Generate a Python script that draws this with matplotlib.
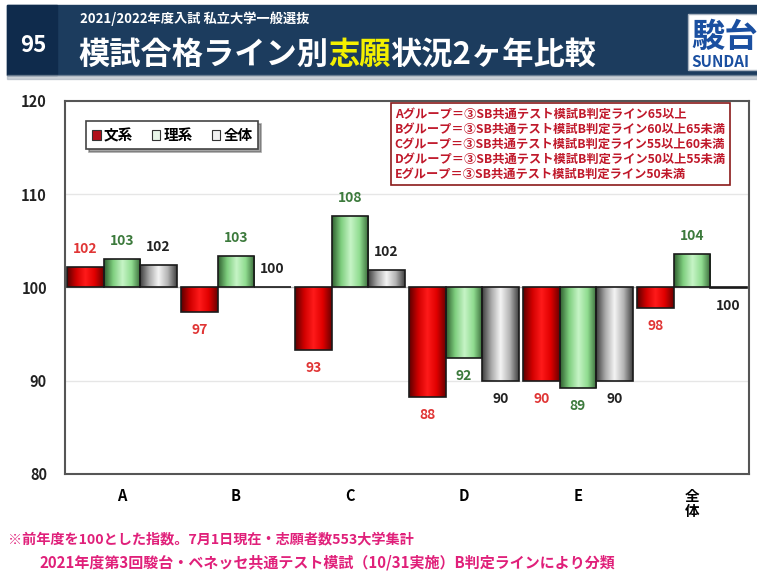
import numpy as np
import matplotlib.pyplot as plt
from matplotlib.colors import LinearSegmentedColormap
from matplotlib.patches import Rectangle, Patch

plt.rcParams['font.family'] = ['Noto Sans CJK JP', 'DejaVu Sans']

# データ（前年度=100とした指数）
groups = ["A", "B", "C", "D", "E", "全\n体"]
bunkei = [102.2, 97.4, 93.3, 88.3, 90.0, 97.8]
rikei = [103.1, 103.4, 107.7, 92.4, 89.2, 103.6]
zentai = [102.4, 100.05, 101.9, 90.0, 90.0, 99.95]
series_names = ["文系", "理系", "全体"]

note_lines = [
    "Aグループ＝③SB共通テスト模試B判定ライン65以上",
    "Bグループ＝③SB共通テスト模試B判定ライン60以上65未満",
    "Cグループ＝③SB共通テスト模試B判定ライン55以上60未満",
    "Dグループ＝③SB共通テスト模試B判定ライン50以上55未満",
    "Eグループ＝③SB共通テスト模試B判定ライン50未満",
]

fig = plt.figure(figsize=(7.57, 5.74), dpi=100)

# ヘッダー
hdr = fig.add_axes([0, 0, 1, 1], zorder=0)
hdr.set_xlim(0, 757)
hdr.set_ylim(574, 0)
hdr.axis("off")
hdr.add_patch(Rectangle((7, 5), 750, 70, color="#1c3c5e"))
hdr.add_patch(Rectangle((7, 5), 50, 70, color="#0f2b4c"))
hdr.add_patch(Rectangle((7, 75), 750, 4, color="#9aa6b2", alpha=0.5))
hdr.text(33, 45, "95", color="white", fontsize=16, fontweight="bold", ha="center", va="center")
hdr.text(80, 19, "2021/2022年度入試 私立大学一般選抜", color="white", fontsize=9.5,
         fontweight="bold", ha="left", va="center")
t1 = hdr.text(78, 64, "模試合格ライン別", color="white", fontsize=22.5, fontweight="bold",
              ha="left", va="baseline")
t2 = hdr.annotate("志願", xy=(1, 0), xycoords=t1, color="#f4f000", fontsize=22.5,
                  fontweight="bold", ha="left", va="bottom")
hdr.annotate("状況2ヶ年比較", xy=(1, 0), xycoords=t2, color="white", fontsize=22.5,
             fontweight="bold", ha="left", va="bottom")
hdr.add_patch(Rectangle((688, 14), 80, 56, facecolor="white", edgecolor="#aab4c0"))
hdr.text(691, 37, "駿台", color="#1a4fa0", fontsize=24, fontweight="bold", ha="left", va="center")
hdr.text(691, 62, "SUNDAI", color="#1a4fa0", fontsize=11, fontweight="bold", ha="left", va="center")

# フッター
hdr.text(8, 539, "※前年度を100とした指数。7月1日現在・志願者数553大学集計", color="#e0207a",
         fontsize=10.2, fontweight="bold", ha="left", va="center")
hdr.text(40, 562, "2021年度第3回駿台・ベネッセ共通テスト模試（10/31実施）B判定ラインにより分類",
         color="#e0207a", fontsize=10.8, fontweight="bold", ha="left", va="center")

# グラフ本体
ax = fig.add_axes([65 / 757, 1 - 474 / 574, 684 / 757, 373 / 574], zorder=1)

cmaps = [
    LinearSegmentedColormap.from_list("r", ["#5a0000", "#d00000", "#ff1a1a", "#e00000", "#6a0000"]),
    LinearSegmentedColormap.from_list("g", ["#2f5f2f", "#7fcf7f", "#c6f4c6", "#8fdc8f", "#356535"]),
    LinearSegmentedColormap.from_list("k", ["#3c3c3c", "#a8a8a8", "#f4f4f4", "#b4b4b4", "#404040"]),
]
label_colors = ["#e03535", "#3c7a3c", "#222222"]
legend_colors = ["#b0101a", "#e8f5e8", "#f0f0f0"]

x = np.arange(len(groups)) + 0.5
width = 0.32
grad = np.linspace(0, 1, 256).reshape(1, -1)

for i, vals in enumerate([bunkei, rikei, zentai]):
    xs = x + (i - 1) * width
    heights = [v - 100 for v in vals]
    bars = ax.bar(xs, heights, width, bottom=100, facecolor="none", edgecolor="#1a1a1a",
                  linewidth=1.2, zorder=3)
    for b, v, xc in zip(bars, vals, xs):
        x0 = b.get_x()
        im = ax.imshow(grad, extent=[x0, x0 + width, 100, v], cmap=cmaps[i],
                       aspect="auto", zorder=2.5)
        im.set_clip_path(b)
        off = 13 if v >= 100 else -13
        ax.annotate(f"{v:.0f}", xy=(xc, v), xytext=(0, off), textcoords="offset points",
                    ha="center", va="center", fontsize=10, fontweight="bold",
                    color=label_colors[i])

ax.set_xlim(0, 6)
ax.set_ylim(80, 120)
ax.set_yticks([80, 90, 100, 110, 120])
ax.set_xticks(x)
ax.set_xticklabels(groups, fontsize=10.5, fontweight="bold", linespacing=0.95)
ax.tick_params(length=0, pad=10, labelsize=10.5)
for lbl in ax.get_yticklabels():
    lbl.set_fontweight("bold")
    lbl.set_color("#222222")
ax.yaxis.set_tick_params(pad=13)
for y in [90, 110]:
    ax.axhline(y, color="#e6e6e6", linewidth=1, zorder=1)
ax.axhline(100, color="#bbbbbb", linewidth=1, zorder=1)
for s in ax.spines.values():
    s.set_color("#555555")
    s.set_linewidth(1.5)

handles = [Patch(facecolor=c, edgecolor="#333333", linewidth=0.8) for c in legend_colors]
leg = ax.legend(handles, series_names, loc="upper left", bbox_to_anchor=(0.02, 0.965),
                ncol=3, frameon=True, fancybox=False, shadow=True,
                handlelength=0.6, handleheight=0.6, handletextpad=0.2, columnspacing=1.3,
                borderpad=0.4, prop={"weight": "bold", "size": 10.5})
leg.get_frame().set_edgecolor("#444444")
leg.get_frame().set_linewidth(1.2)

ax.text(0.482, 0.983, "\n".join(note_lines), transform=ax.transAxes, ha="left", va="top",
        fontsize=8.8, fontweight="bold", color="#c0182a", linespacing=1.22, zorder=5,
        bbox=dict(facecolor="white", edgecolor="#8b1a1a", linewidth=1.2, pad=3))

plt.savefig("out.png", dpi=100)
